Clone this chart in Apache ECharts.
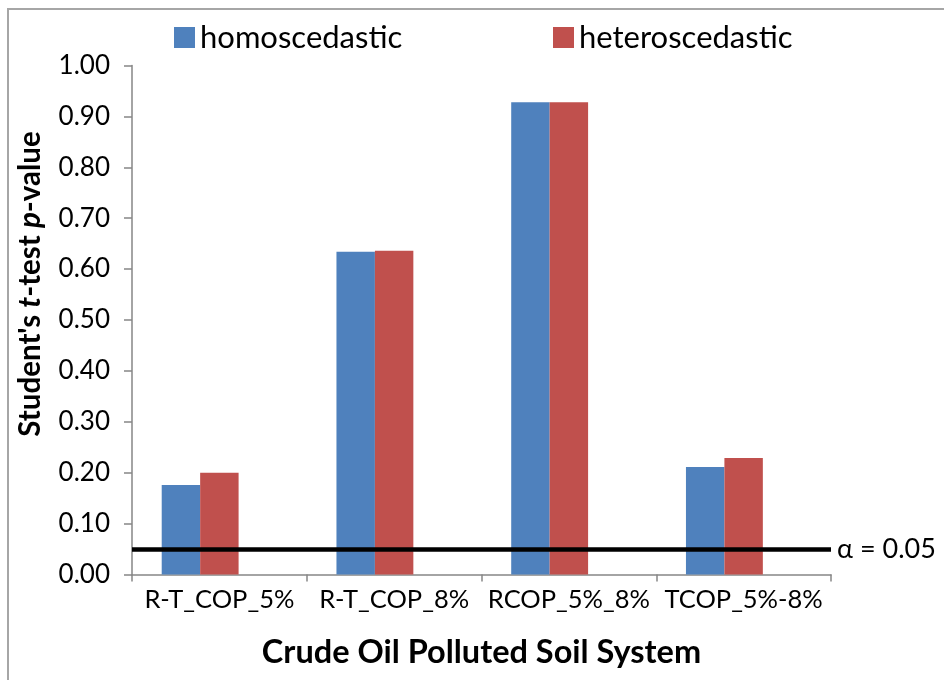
<!DOCTYPE html>
<html>
<head>
<meta charset="utf-8">
<script src="https://cdn.jsdelivr.net/npm/echarts@6/dist/echarts.min.js"></script>
<style>html,body{margin:0;padding:0;background:#fff;}#c{width:944px;height:680px;}</style>
</head>
<body>
<div id="c"></div>
<script>
const categories = ['R-T_COP_5%', 'R-T_COP_8%', 'RCOP_5%_8%', 'TCOP_5%-8%'];
const homoscedastic = [0.176, 0.634, 0.928, 0.211];
const heteroscedastic = [0.200, 0.636, 0.928, 0.229];
const spacer = ['-', '-', '-', '-'];
const alpha = 0.05;
const yTicks = { min: 0, max: 1, interval: 0.1 };

const FONT = 'Lato';
const chart = echarts.init(document.getElementById('c'));
chart.setOption({
  animation: false,
  backgroundColor: '#fff',
  graphic: [
    { type: 'rect', silent: true,
      shape: { x: 8, y: 9, width: 1000, height: 1000 },
      style: { fill: 'none', stroke: '#a6a6a6', lineWidth: 2 } },
    { type: 'text', silent: true, x: 30, y: 284, rotation: Math.PI / 2,
      style: {
        text: '{n|Student\'s }{i|t}{n|-test }{i|p}{n|-value}',
        align: 'center', verticalAlign: 'middle',
        rich: {
          n: { fontFamily: FONT, fontSize: 29.5, fontWeight: 'bold', fill: '#000' },
          i: { fontFamily: FONT, fontSize: 29.5, fontWeight: 'bold', fontStyle: 'italic', fill: '#000' }
        }
      } }
  ],
  legend: [
    { data: ['homoscedastic'], left: 169, top: 17, icon: 'rect', itemWidth: 21, itemHeight: 21, itemGap: 8,
      textStyle: { fontFamily: FONT, fontSize: 31, color: '#000', padding: [0, 0, 0, 0] } },
    { data: ['heteroscedastic'], left: 548, top: 17, icon: 'rect', itemWidth: 21, itemHeight: 21, itemGap: 8,
      textStyle: { fontFamily: FONT, fontSize: 31, color: '#000', padding: [0, 0, 0, 0] } }
  ],
  grid: { left: 132, right: 113, top: 65.5, bottom: 105.5 },
  xAxis: {
    type: 'category', data: categories,
    axisLine: { lineStyle: { color: '#868686', width: 1.5 } },
    axisTick: { show: true, length: 7, lineStyle: { color: '#868686', width: 1.5 } },
    axisLabel: { interval: 0, fontFamily: FONT, fontSize: 25.5, color: '#000', margin: 12 },
    name: 'Crude Oil Polluted Soil System', nameLocation: 'middle', nameGap: 62,
    nameTextStyle: { fontFamily: FONT, fontSize: 32.5, fontWeight: 'bold', color: '#000' }
  },
  yAxis: {
    type: 'value', min: yTicks.min, max: yTicks.max, interval: yTicks.interval,
    splitLine: { show: false },
    axisLine: { show: true, lineStyle: { color: '#868686', width: 1.5 } },
    axisTick: { show: true, length: 8, lineStyle: { color: '#868686', width: 1.5 } },
    axisLabel: { fontFamily: FONT, fontSize: 26, color: '#000', margin: 22, formatter: v => v.toFixed(2) }
  },
  series: [
    { name: 'homoscedastic', type: 'bar', data: homoscedastic, barGap: '0%', barCategoryGap: '34%',
      itemStyle: { color: '#4F81BD' } },
    { name: 'heteroscedastic', type: 'bar', data: heteroscedastic, barGap: '0%', barCategoryGap: '34%',
      itemStyle: { color: '#C0504D' } },
    { name: 'spacer', type: 'bar', data: spacer, barGap: '0%', barCategoryGap: '34%',
      markLine: {
        silent: true, symbol: ['none', 'none'],
        lineStyle: { color: '#000', width: 4.5, type: 'solid' },
        label: { show: true, position: 'end', distance: 6, formatter: '\u03b1 = ' + alpha.toFixed(2),
          fontFamily: FONT, fontSize: 27, color: '#000' },
        data: [{ yAxis: alpha }]
      } }
  ]
});
</script>
</body>
</html>
